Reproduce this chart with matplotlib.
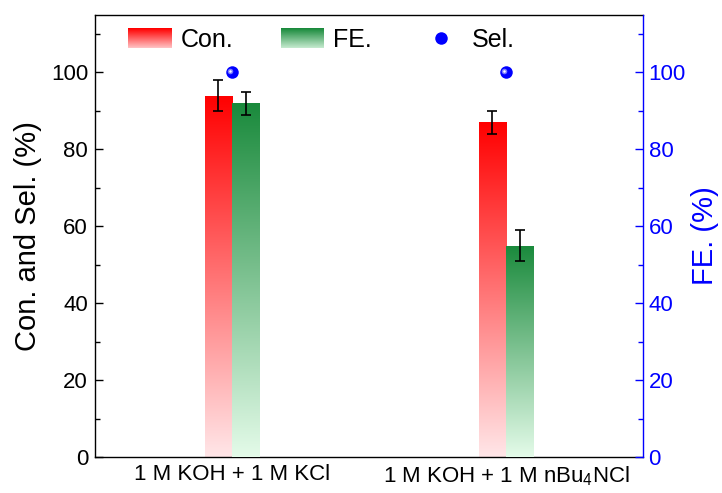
import numpy as np
import matplotlib
matplotlib.use("Agg")
import matplotlib.pyplot as plt
from matplotlib.colors import LinearSegmentedColormap
from matplotlib.legend_handler import HandlerBase
from matplotlib.patches import Rectangle
from matplotlib.lines import Line2D
from matplotlib.ticker import MultipleLocator
from matplotlib.transforms import offset_copy

plt.rcParams["font.family"] = ["Liberation Sans", "DejaVu Sans"]
plt.rcParams["mathtext.fontset"] = "custom"
plt.rcParams["mathtext.rm"] = "Liberation Sans"
plt.rcParams["mathtext.default"] = "regular"

# electrolytes and measured values (%)
electrolytes = ["1 M KOH + 1 M KCl", "1 M KOH + 1 M nBu$_4$NCl"]
conversion = [94, 87]
conversion_err = [4, 3]
fe = [92, 55]
fe_err = [3, 4]
selectivity = [100, 100]

BLUE = "#0000ff"
red_cmap = LinearSegmentedColormap.from_list("con", ["#ffe6e8", "#ff0000"])
green_cmap = LinearSegmentedColormap.from_list("fe", ["#e4fbe9", "#1a8a3c"])


class GradientHandler(HandlerBase):
    """Legend key drawn as a vertical colour gradient."""

    def __init__(self, cmap, n=40):
        super().__init__()
        self.cmap = cmap
        self.n = n

    def create_artists(self, legend, orig_handle, xdescent, ydescent,
                       width, height, fontsize, trans):
        out = []
        for i in range(self.n):
            r = Rectangle((-xdescent, -ydescent + height * i / self.n), width,
                          height / self.n * 1.05,
                          facecolor=self.cmap(0.15 + 0.85 * i / (self.n - 1)),
                          edgecolor="none", transform=trans)
            out.append(r)
        return out


def gradient_bars(axis, xs, heights, cmap, width):
    bars = axis.bar(xs, heights, width=width, color="none", edgecolor="none", zorder=2)
    grad = np.linspace(0, 1, 256).reshape(-1, 1)
    for b in bars:
        x0, y0 = b.get_x(), b.get_y()
        im = axis.imshow(grad, cmap=cmap, origin="lower", aspect="auto",
                         extent=[x0, x0 + b.get_width(), y0, y0 + b.get_height()],
                         zorder=2, interpolation="bilinear")
        im.set_clip_path(b)
    return bars


fig = plt.figure(figsize=(7.22, 4.93), dpi=100)
ax = fig.add_axes([0.1316, 0.073, 0.759, 0.897])
ax2 = ax.twinx()

x = np.arange(len(electrolytes))
w = 0.1

gradient_bars(ax, x - w / 2, conversion, red_cmap, w)
ax.errorbar(x - w / 2, conversion, yerr=conversion_err, fmt="none", ecolor="k",
            elinewidth=1.2, capsize=3.5, capthick=1.2, zorder=3)

gradient_bars(ax2, x + w / 2, fe, green_cmap, w)
ax2.errorbar(x + w / 2, fe, yerr=fe_err, fmt="none", ecolor="k",
             elinewidth=1.2, capsize=3.5, capthick=1.2, zorder=3)

# selectivity as shaded blue balls
ax.plot(x, selectivity, "o", color=BLUE, ms=9, mec="none", zorder=4)
hl = offset_copy(ax.transData, fig=fig, x=-1.2, y=1.2, units="points")
ax.plot(x, selectivity, "o", color="#7a7aff", ms=4, mec="none", transform=hl, zorder=5)
ax.plot(x, selectivity, "o", color="white", ms=1.8, mec="none", transform=hl, zorder=6)

for a in (ax, ax2):
    a.set_ylim(0, 115)
    a.yaxis.set_major_locator(MultipleLocator(20))
    a.yaxis.set_minor_locator(MultipleLocator(10))
ax.set_xlim(-0.5, 1.5)
ax.set_xticks(x)
ax.set_xticklabels(electrolytes, fontsize=16)

ax.tick_params(axis="y", which="both", direction="in", labelsize=16, pad=5,
               right=False, width=1)
ax.tick_params(axis="y", which="major", length=6)
ax.tick_params(axis="y", which="minor", length=3.5)
ax.tick_params(axis="x", direction="in", length=5, width=1, pad=5, top=False)

ax2.tick_params(axis="y", which="both", direction="in", labelsize=16, pad=4,
                colors=BLUE, width=1)
ax2.tick_params(axis="y", which="major", length=6)
ax2.tick_params(axis="y", which="minor", length=3.5)

ax.spines["right"].set_visible(False)
for s in ("left", "top", "bottom"):
    ax2.spines[s].set_visible(False)
ax2.spines["right"].set_color(BLUE)
for s in ax.spines.values():
    s.set_linewidth(1)
ax2.spines["right"].set_linewidth(1)

ax.set_ylabel("Con. and Sel. (%)", fontsize=21, labelpad=6)
ax2.set_ylabel("FE. (%)", fontsize=21, color=BLUE, labelpad=4)

con_key = Rectangle((0, 0), 1, 1)
fe_key = Rectangle((0, 0), 1, 1)
sel_key = Line2D([], [], ls="none", marker="o", ms=9, color=BLUE, mec="none")
ax.legend([con_key, fe_key, sel_key], ["Con.", "FE.", "Sel."],
          handler_map={con_key: GradientHandler(red_cmap),
                       fe_key: GradientHandler(green_cmap)},
          ncol=3, loc="center left", bbox_to_anchor=(0.06, 0.943),
          frameon=False, fontsize=18, handlelength=1.75, handleheight=0.85,
          handletextpad=0.35, columnspacing=1.9, borderpad=0, borderaxespad=0)

fig.savefig("out.png", dpi=100)
